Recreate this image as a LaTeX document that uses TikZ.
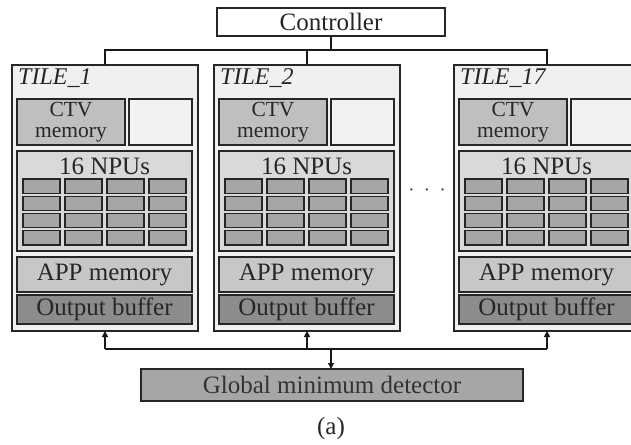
\documentclass[tikz,border=0pt]{standalone}
\usepackage{fontspec}
\setmainfont{Liberation Serif}
\usetikzlibrary{arrows.meta}

\tikzset{
  blk/.style={draw=black!85, line width=1.5pt, inner sep=0pt, outer sep=0pt},
  tilebox/.style={draw=black!85, line width=1.3pt, fill=black!6, inner sep=0pt, outer sep=0pt,
    minimum width=186pt, minimum height=266pt, anchor=north west},
  ctvbox/.style={blk, fill=black!25, minimum width=108pt, minimum height=46pt, anchor=north west,
    align=center, font=\fontsize{21.5}{21}\selectfont, text=black!85},
  emptybox/.style={blk, fill=black!5, minimum width=63pt, minimum height=46pt, anchor=north west},
  npubox/.style={blk, fill=black!15, minimum width=175pt, minimum height=100pt, anchor=north west},
  appbox/.style={blk, fill=black!22, minimum width=175pt, minimum height=35pt, anchor=north west,
    font=\fontsize{25}{27}\selectfont, text=black!85},
  outbox/.style={blk, fill=black!45, minimum width=175pt, minimum height=29pt, anchor=north west,
    font=\fontsize{25}{27}\selectfont, text=black!85},
  npucell/.style={draw=black!85, line width=1.4pt, fill=black!35},
  tilelabel/.style={anchor=west, inner sep=0pt, font=\fontsize{24}{26}\selectfont\itshape, text=black!85},
  bigtext/.style={font=\fontsize{25}{27}\selectfont, text=black!85},
  wire/.style={line width=1.3pt, draw=black!90},
  tip/.style={-{Triangle[length=6pt,width=6pt]}}
}

\begin{document}
\begin{tikzpicture}[x=1pt, y=-1pt]
\useasboundingbox (0,0) rectangle (631,444);
\clip (0,0) rectangle (631,444);

% controller at the top
\node[blk, fill=white, minimum width=228pt, minimum height=28pt, bigtext] (ctrl) at (331,22) {Controller};

% the tiles
\foreach \L/\n in {12/1, 214/2, 454/17}{
  \node[tilebox] (t\n) at (\L,65) {};
  \node[tilelabel] (lab\n) at (\L+6,78) {TILE\_\n};
  \node[ctvbox] (ctv\n) at (\L+5,99) {CTV\\memory};
  \node[emptybox] (spare\n) at (\L+117,99) {};
  \node[npubox] (npu\n) at (\L+5,151) {};
  \node[bigtext, inner sep=0pt] (npulab\n) at (\L+92.5,166) {16 NPUs};
  \foreach \c in {0,1,2,3}{
    \foreach \r in {0,1,2,3}{
      \draw[npucell] (\L+11+\c*42,179+\r*17.25) rectangle ++(37,14.25);
    }
  }
  \node[appbox] (app\n) at (\L+5,257) {APP memory};
  \node[outbox] (out\n) at (\L+5,295) {Output buffer};
}

% ellipsis between the second and the last tile
\node[inner sep=0pt, font=\fontsize{20}{20}\selectfont, text=black!70] (dots) at (427,193)
  {·\hspace{9pt}·\hspace{9pt}·};

% global minimum detector and caption
\node[blk, fill=black!35, minimum width=382pt, minimum height=32pt, anchor=north west,
  bigtext, text=black!80] (gmd) at (141,369) {Global minimum detector};
\node[bigtext, inner sep=0pt] (cap) at (331,428) {(a)};

% control bus
\coordinate (topbus) at (331,50);
\draw[wire] (ctrl.south) -- (topbus);
\draw[wire] (t1.north) |- (topbus) -| (t17.north);
\draw[wire] (topbus -| t2.north) -- (t2.north);

% result bus
\coordinate (lowbus) at (331,349);
\draw[wire] (t1.south |- lowbus) -- (t17.south |- lowbus);
\foreach \n in {1,2,17}{
  \draw[wire, tip] (t\n.south |- lowbus) -- (t\n.south);
}
\draw[wire, tip] (lowbus) -- (gmd.north -| lowbus);
\end{tikzpicture}
\end{document}
